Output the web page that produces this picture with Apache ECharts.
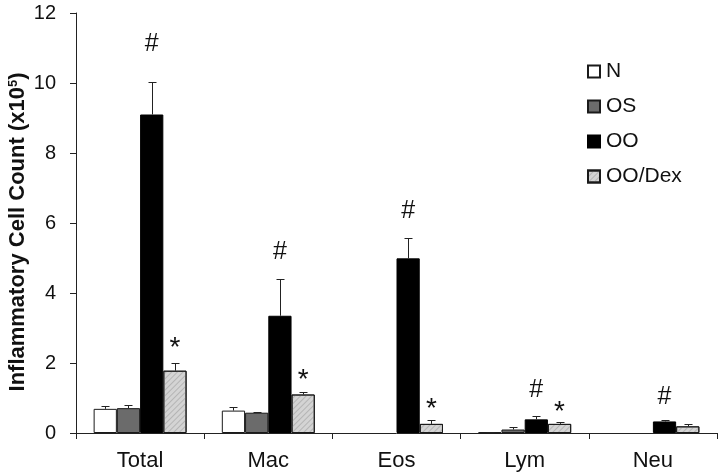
<!DOCTYPE html>
<html>
<head>
<meta charset="utf-8">
<script src="https://cdn.jsdelivr.net/npm/echarts@6/dist/echarts.min.js"></script>
<style>html,body{margin:0;padding:0;background:#fff}#chart{width:720px;height:475px}</style>
</head>
<body>
<div id="chart"></div>
<script>
// ---- data ----
var categories = ['Total', 'Mac', 'Eos', 'Lym', 'Neu'];
var seriesNames = ['N', 'OS', 'OO', 'OO/Dex'];
var valN   = [0.69, 0.64, null, 0.02, null];
var valOS  = [0.71, 0.58, null, 0.10, null];
var valOO  = [9.10, 3.35, 4.99, 0.39, 0.33];
var valDex = [1.78, 1.10, 0.26, 0.26, 0.19];
var errN   = [0.09, 0.09, null, 0.00, null];
var errOS  = [0.10, 0.03, null, 0.06, null];
var errOO  = [0.93, 1.06, 0.59, 0.11, 0.03];
var errDex = [0.22, 0.08, 0.10, 0.06, 0.06];
// significance marks (symbol, height in axis units)
var sigOO     = ['#', '#', '#', '#', '#'];
var sigOOY    = [11.10, 5.18, 6.34, 1.23, 1.02];
var sigDex    = ['*', '*', '*', '*', ''];
var sigDexY   = [2.62, 1.72, 0.88, 0.80, null];
var yTicks = { min: 0, max: 12, interval: 2 };

var FONT = "'Liberation Sans', Arial, sans-serif";
var CAT_GAP = 0.275;

var values = [valN, valOS, valOO, valDex];
var errs = [errN, errOS, errOO, errDex];
var sigs = [[sigOO, sigOOY, 2], [sigDex, sigDexY, 3]];

var styles = [
  { color: '#ffffff', borderColor: '#1a1a1a', borderWidth: 1 },
  { color: '#6b6b6b', borderColor: '#1a1a1a', borderWidth: 1 },
  { color: '#000000', borderColor: '#000000', borderWidth: 1 },
  { color: '#d4d4d4', borderColor: '#1a1a1a', borderWidth: 1,
    decal: { symbol: 'rect', symbolSize: 1, dashArrayX: [1, 0], dashArrayY: [1, 3],
             rotation: -Math.PI / 4, color: 'rgba(150,150,150,0.5)' } }
];

var errData = [];
values.forEach(function (arr, si) {
  arr.forEach(function (v, ci) {
    if (v != null && errs[si][ci] != null) errData.push([ci, si, v, errs[si][ci]]);
  });
});
var sigData = [];
sigs.forEach(function (s) {
  s[0].forEach(function (t, ci) {
    if (t) sigData.push([ci, s[2], s[1][ci], t]);
  });
});

function barOffset(api, si) {
  var band = api.size([1, 0])[0];
  var bw = band * (1 - CAT_GAP) / 4;
  return (si - 1.5) * bw;
}

var series = seriesNames.map(function (name, i) {
  return {
    name: name, type: 'bar', data: values[i],
    barGap: '0%', barCategoryGap: (CAT_GAP * 100) + '%',
    itemStyle: styles[i], emphasis: { disabled: true }, animation: false
  };
});
series.push({
  type: 'custom', data: errData, animation: false, silent: true, z: 3,
  renderItem: function (params, api) {
    var ci = api.value(0), si = api.value(1), v = api.value(2), e = api.value(3);
    var b = api.coord([ci, v]);
    var t = api.coord([ci, v + e]);
    var x = Math.round(b[0] + barOffset(api, si)) + 0.5;
    var ty = Math.round(t[1]) + 0.5;
    var st = { stroke: '#222', lineWidth: 1 };
    return { type: 'group', children: [
      { type: 'line', shape: { x1: x, y1: b[1], x2: x, y2: ty }, style: st },
      { type: 'line', shape: { x1: x - 4, y1: ty, x2: x + 4, y2: ty }, style: st }
    ]};
  }
});
series.push({
  type: 'custom', data: sigData, animation: false, silent: true, z: 4,
  renderItem: function (params, api) {
    var ci = api.value(0), si = api.value(1), y = api.value(2);
    var txt = sigData[params.dataIndex][3];
    var p = api.coord([ci, y]);
    var x = p[0] + barOffset(api, si);
    var star = txt === '*';
    return { type: 'text', x: x, y: p[1] + (star ? 7 : 0),
      style: { text: txt, fill: '#111', font: (star ? '28px ' : '25px ') + FONT, align: 'center', verticalAlign: 'middle' } };
  }
});

var chart = echarts.init(document.getElementById('chart'), null, { renderer: 'canvas' });
chart.setOption({
  backgroundColor: '#ffffff',
  animation: false,
  textStyle: { fontFamily: FONT },
  grid: { left: 76, right: 3, top: 13, bottom: 42, containLabel: false },
  legend: {
    data: seriesNames, orient: 'vertical', left: 587, top: 61, padding: 0,
    itemWidth: 12, itemHeight: 12, itemGap: 14,
    icon: 'rect',
    textStyle: { fontSize: 21, color: '#111', fontFamily: FONT, padding: [0, 0, 0, 1] },
    selectedMode: false
  },
  xAxis: {
    type: 'category', data: categories,
    axisLine: { lineStyle: { color: '#222', width: 1 } },
    axisTick: { show: true, length: 6, lineStyle: { color: '#222' } },
    axisLabel: { fontSize: 22, color: '#111', margin: 17, fontFamily: FONT }
  },
  yAxis: {
    type: 'value', min: yTicks.min, max: yTicks.max, interval: yTicks.interval,
    axisLine: { show: true, lineStyle: { color: '#222', width: 1 } },
    axisTick: { show: true, length: 6, lineStyle: { color: '#222' } },
    splitLine: { show: false },
    axisLabel: { fontSize: 20, color: '#111', margin: 20, fontFamily: FONT }
  },
  graphic: [{
    type: 'text', x: 18, y: 232, rotation: Math.PI / 2,
    style: {
      text: 'Inflammatory Cell Count (x10{sup|5})',
      font: 'bold 22px ' + FONT, fill: '#111', align: 'center', verticalAlign: 'middle',
      rich: { sup: { fontSize: 13, fontWeight: 'bold', fontFamily: FONT, verticalAlign: 'top', lineHeight: 13, padding: [0, 0, 9, 0] } }
    }
  }],
  series: series
});
</script>
</body>
</html>
